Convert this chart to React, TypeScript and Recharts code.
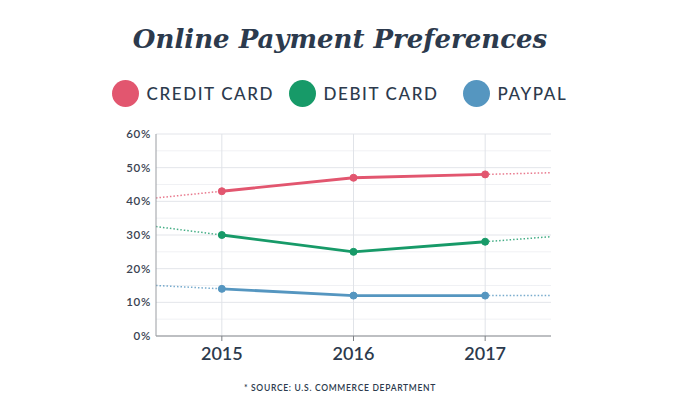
import React from "react";
import { LineChart, Line, XAxis, YAxis, ReferenceLine } from "recharts";

const years = [2014.5, 2015, 2016, 2017, 2017.5];
const creditCard = [null, 43, 47, 48, null];
const debitCard = [null, 30, 25, 28, null];
const paypal = [null, 14, 12, 12, null];
const creditTrend = [41, 43, null, 48, 48.5];
const debitTrend = [32.5, 30, null, 28, 29.5];
const paypalTrend = [15, 14, null, 12, 12];
const xTicks = [2015, 2016, 2017];
const yTicks = [0, 10, 20, 30, 40, 50, 60];
const minorGrid = [5, 15, 25, 35, 45, 55];

const COLORS = { credit: "#e2566f", debit: "#179a68", paypal: "#5596c0" };
const TEXT = "#2c3a4d";

const data = years.map((y, i) => ({
  year: y,
  credit: creditCard[i],
  debit: debitCard[i],
  paypal: paypal[i],
  creditT: creditTrend[i],
  debitT: debitTrend[i],
  paypalT: paypalTrend[i],
}));

const legendItems = [
  { label: "CREDIT CARD", color: COLORS.credit, cx: 125 },
  { label: "DEBIT CARD", color: COLORS.debit, cx: 302 },
  { label: "PAYPAL", color: COLORS.paypal, cx: 476 },
];

const sans = "Lato, 'Noto Sans', sans-serif";

export default function App() {
  return (
    <div style={{ position: "fixed", left: 0, top: 0, width: 680, height: 418, background: "#fff", overflow: "hidden" }}>
      <div
        style={{
          position: "absolute",
          left: 0,
          width: 680,
          top: 21,
          textAlign: "center",
          fontFamily: "'DejaVu Serif', serif",
          fontStyle: "italic",
          fontWeight: 700,
          fontSize: 26,
          color: TEXT,
          lineHeight: "36px",
        }}
      >
        Online Payment Preferences
      </div>
      {legendItems.map((it) => (
        <div key={it.label} style={{ position: "absolute", left: it.cx - 13.5, top: 80, height: 27, display: "flex", alignItems: "center" }}>
          <div style={{ width: 27, height: 27, borderRadius: "50%", background: it.color }} />
          <span
            style={{
              marginLeft: 8,
              fontFamily: sans,
              fontSize: 17,
              letterSpacing: 1.6,
              fontWeight: 500,
              color: TEXT,
            }}
          >
            {it.label}
          </span>
        </div>
      ))}
      <div style={{ position: "absolute", left: 0, top: 0 }}>
        <LineChart width={680} height={418} data={data} margin={{ top: 134, right: 129, bottom: 52, left: 116 }}>
          {minorGrid.map((v) => (
            <ReferenceLine key={"m" + v} y={v} stroke="#f0f1f4" strokeWidth={1} />
          ))}
          {yTicks.slice(1).map((v) => (
            <ReferenceLine key={"g" + v} y={v} stroke="#e3e5ea" strokeWidth={1} />
          ))}
          {xTicks.map((v) => (
            <ReferenceLine key={"v" + v} x={v} stroke="#e0e3e8" strokeWidth={1} />
          ))}
          <XAxis
            dataKey="year"
            type="number"
            domain={[2014.5, 2017.5]}
            ticks={xTicks}
            allowDataOverflow
            height={30}
            axisLine={{ stroke: "#7d8085", strokeWidth: 1.2 }}
            tickLine={{ stroke: "#7d8085" }}
            tickSize={5}
            tick={{ fill: TEXT, fontSize: 18, fontFamily: sans, fontWeight: 600 }}
            tickMargin={6}
          />
          <YAxis
            type="number"
            domain={[0, 60]}
            ticks={yTicks}
            width={40}
            interval={0}
            tickFormatter={(v) => `${v}%`}
            axisLine={{ stroke: "#9a9da2", strokeWidth: 1 }}
            tickLine={false}
            tickSize={0}
            tick={{ fill: "#3a4352", fontSize: 11.5, fontFamily: sans, fontWeight: 600, letterSpacing: 0.7 }}
            tickMargin={5}
          />
          <Line dataKey="creditT" stroke={COLORS.credit} strokeOpacity={0.8} strokeWidth={1.5} strokeDasharray="1.5 2" dot={false} isAnimationActive={false} connectNulls={false} />
          <Line dataKey="debitT" stroke={COLORS.debit} strokeOpacity={0.8} strokeWidth={1.5} strokeDasharray="1.5 2" dot={false} isAnimationActive={false} connectNulls={false} />
          <Line dataKey="paypalT" stroke={COLORS.paypal} strokeOpacity={0.8} strokeWidth={1.5} strokeDasharray="1.5 2" dot={false} isAnimationActive={false} connectNulls={false} />
          <Line dataKey="credit" stroke={COLORS.credit} strokeWidth={2.8} dot={{ r: 3.5, fill: COLORS.credit, stroke: COLORS.credit, strokeWidth: 1 }} isAnimationActive={false} />
          <Line dataKey="debit" stroke={COLORS.debit} strokeWidth={2.8} dot={{ r: 3.5, fill: COLORS.debit, stroke: COLORS.debit, strokeWidth: 1 }} isAnimationActive={false} />
          <Line dataKey="paypal" stroke={COLORS.paypal} strokeWidth={2.8} dot={{ r: 3.5, fill: COLORS.paypal, stroke: COLORS.paypal, strokeWidth: 1 }} isAnimationActive={false} />
        </LineChart>
      </div>
      <div
        style={{
          position: "absolute",
          left: 0,
          width: 680,
          top: 383,
          textAlign: "center",
          fontFamily: sans,
          fontSize: 8.5,
          fontWeight: 600,
          letterSpacing: 0.7,
          color: TEXT,
        }}
      >
        * SOURCE: U.S. COMMERCE DEPARTMENT
      </div>
    </div>
  );
}
